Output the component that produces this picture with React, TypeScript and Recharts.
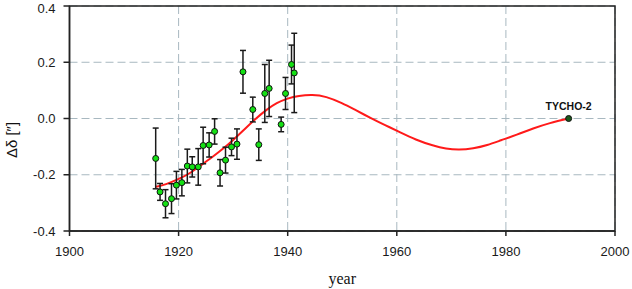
import { ComposedChart, Line, Scatter, ErrorBar, XAxis, YAxis, CartesianGrid, ReferenceArea, Label, LabelList } from 'recharts';

// astrometric epochs: year, Δδ (arcsec), 1σ error
const OBS_YEARS = [1915.8, 1916.6, 1917.6, 1918.7, 1919.6, 1920.6, 1921.6, 1922.5, 1923.6, 1924.5, 1925.6, 1926.6, 1927.6, 1928.6, 1929.7, 1930.7, 1931.8, 1933.6, 1934.7, 1935.8, 1936.6, 1938.8, 1939.6, 1940.7, 1941.2];
const OBS_DD = [-0.142, -0.261, -0.303, -0.285, -0.237, -0.228, -0.169, -0.172, -0.172, -0.096, -0.094, -0.046, -0.193, -0.148, -0.101, -0.091, 0.166, 0.032, -0.093, 0.089, 0.107, -0.021, 0.089, 0.192, 0.162];
const OBS_ERR = [0.108, 0.03, 0.05, 0.053, 0.049, 0.047, 0.06, 0.036, 0.065, 0.065, 0.043, 0.045, 0.047, 0.046, 0.031, 0.054, 0.076, 0.044, 0.056, 0.103, 0.1, 0.026, 0.057, 0.069, 0.141];

// orbit fit curve
const FIT_YEARS = [1915.8, 1917.6, 1920, 1922, 1924, 1926, 1928, 1930, 1932, 1934, 1936, 1938, 1940, 1942, 1944.5, 1947, 1950, 1952.5, 1955.4, 1958, 1960.3, 1963.5, 1966.7, 1969, 1971.4, 1974, 1976.6, 1979, 1982, 1985, 1988, 1991.5];
const FIT_DD = [-0.243, -0.235, -0.216, -0.196, -0.168, -0.14, -0.11, -0.077, -0.04, -0.003, 0.03, 0.056, 0.072, 0.081, 0.085, 0.079, 0.055, 0.029, 0, -0.025, -0.046, -0.076, -0.097, -0.108, -0.112, -0.107, -0.095, -0.078, -0.058, -0.035, -0.016, 0];

const TYCHO_YEAR = [1991.5];
const TYCHO_DD = [0];
const TYCHO_NAME = ['TYCHO-2'];

const X_TICKS = [1900, 1920, 1940, 1960, 1980, 2000];
const Y_TICKS = [-0.4, -0.2, 0, 0.2, 0.4];

const obs = OBS_YEARS.map((year, i) => ({ year, dd: OBS_DD[i], err: OBS_ERR[i] }));
const fit = FIT_YEARS.map((year, i) => ({ year, dd: FIT_DD[i] }));
const tycho = TYCHO_YEAR.map((year, i) => ({ year, dd: TYCHO_DD[i], name: TYCHO_NAME[i] }));

const tickStyle = { fontSize: 13, fill: '#1a1a1a', fontFamily: 'Liberation Sans, Arial, sans-serif' };

const GreenDot = (p: any) => <circle cx={p.cx} cy={p.cy} r={3} fill="#14e014" stroke="#111" strokeWidth={1} />;
const DarkDot = (p: any) => <circle cx={p.cx} cy={p.cy} r={3} fill="#1c5a1c" stroke="#111" strokeWidth={1} />;

export default function App() {
  return (
    <div style={{ position: 'absolute', left: 0, top: 0, background: '#fff' }}>
      <ComposedChart width={632} height={289} margin={{ top: 6, right: 17, bottom: 0, left: 0 }}>
        <CartesianGrid stroke="#a8b8c0" strokeDasharray="8 4" />
        <XAxis dataKey="year" type="number" domain={[1900, 2000]} ticks={X_TICKS} height={58}
          tick={tickStyle} tickSize={5} tickMargin={11} stroke="#222" strokeWidth={1.5}>
          <Label value="year" position="insideBottom" offset={5}
            style={{ fontSize: 16, fill: '#111', fontFamily: 'Liberation Serif, Times New Roman, serif' }} />
        </XAxis>
        <YAxis dataKey="dd" type="number" domain={[-0.4, 0.4]} ticks={Y_TICKS} width={69.5}
          tick={tickStyle} tickSize={6} tickMargin={8} stroke="#222" strokeWidth={1.5}
          tickFormatter={(v: number) => v.toFixed(1)}>
          <Label content={() => (
            <text x={17} y={140} transform="rotate(-90 17 140)" textAnchor="middle"
              style={{ fontSize: 15, fill: '#111', fontFamily: 'Liberation Sans, Arial, sans-serif' }}>
              Δδ [″]
            </text>
          )} />
        </YAxis>
        <ReferenceArea x1={1900} x2={2000} y1={-0.4} y2={0.4} fill="none" stroke="#222" strokeWidth={1.5} />
        <Line data={fit} dataKey="dd" type="basis" stroke="#ff1a1a" strokeWidth={2} dot={false} isAnimationActive={false} />
        <Scatter data={obs} dataKey="dd" shape={GreenDot} isAnimationActive={false}>
          <ErrorBar dataKey="err" direction="y" width={3} stroke="#1a1a1a" strokeWidth={1.5} isAnimationActive={false} />
        </Scatter>
        <Scatter data={tycho} dataKey="dd" shape={DarkDot} isAnimationActive={false}>
          <LabelList dataKey="name" content={(p: any) => (
            <text x={p.x + p.width / 2} y={p.y + p.height / 2 - 9} textAnchor="middle"
              style={{ fontSize: 10.5, fontWeight: 'bold', fill: '#111', fontFamily: 'Liberation Sans, Arial, sans-serif' }}>
              {p.value}
            </text>
          )} />
        </Scatter>
      </ComposedChart>
    </div>
  );
}
